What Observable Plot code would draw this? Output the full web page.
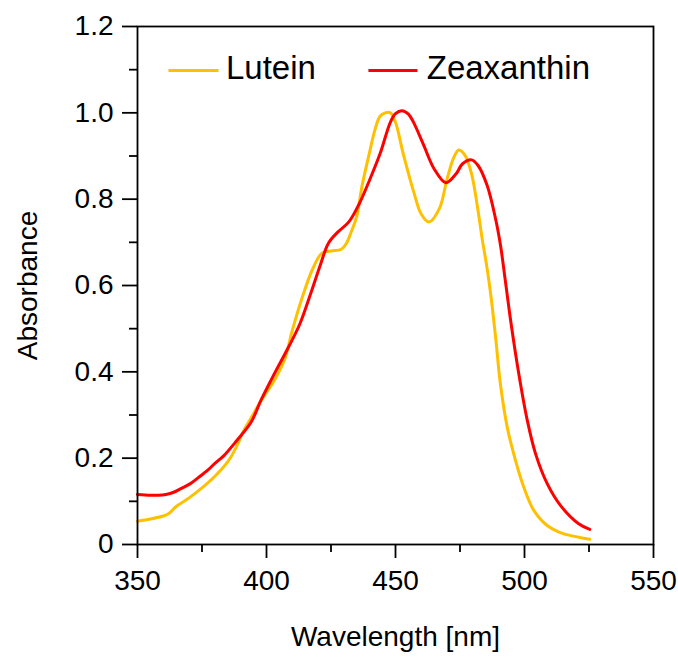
<!DOCTYPE html>
<html>
<head>
<meta charset="utf-8">
<script src="https://cdn.jsdelivr.net/npm/d3@7"></script>
<script src="https://cdn.jsdelivr.net/npm/@observablehq/plot@0.6"></script>
<style>
  html, body { margin: 0; padding: 0; background: #fff; }
  #chart svg { display: block; }
</style>
</head>
<body>
<div id="chart"></div>
<script>
// Lutein absorbance spectrum (wavelength nm, absorbance)
const luteinWavelength = [350, 355, 360, 362, 365, 370, 375, 380, 385, 388, 391, 394, 398, 403, 407, 410, 414, 418, 421.5, 425, 429, 431, 433, 435, 437, 440, 442, 444, 446, 448, 450, 453, 457, 460, 463, 467, 470, 472.5, 474.5, 477, 479.5, 481.7, 483.6, 485.5, 487, 488.8, 490.7, 493.3, 496.5, 499.7, 503.6, 508.8, 515, 521, 525.3];
const luteinAbsorbance = [0.054, 0.059, 0.066, 0.071, 0.088, 0.108, 0.131, 0.158, 0.192, 0.222, 0.262, 0.293, 0.334, 0.380, 0.428, 0.496, 0.575, 0.640, 0.675, 0.680, 0.684, 0.698, 0.727, 0.760, 0.830, 0.910, 0.960, 0.992, 1.000, 1.000, 0.978, 0.905, 0.818, 0.765, 0.747, 0.778, 0.847, 0.895, 0.914, 0.901, 0.858, 0.785, 0.708, 0.640, 0.575, 0.480, 0.370, 0.272, 0.195, 0.133, 0.079, 0.044, 0.025, 0.017, 0.012];

// Zeaxanthin absorbance spectrum
const zeaWavelength = [350, 355, 358, 361, 364, 367, 370.5, 374, 377, 380, 383.5, 388.5, 394, 398, 403, 408.5, 413, 417.5, 421, 424, 427.5, 432, 436, 440, 444, 448, 450, 452.5, 455, 457, 461, 465, 469.5, 473.5, 476, 479.5, 482, 485.5, 488.8, 490.7, 492.6, 494.6, 497.8, 501, 504.3, 508.8, 514, 521, 525.3];
const zeaAbsorbance = [0.116, 0.114, 0.114, 0.116, 0.121, 0.130, 0.141, 0.157, 0.171, 0.188, 0.206, 0.241, 0.283, 0.336, 0.395, 0.457, 0.512, 0.588, 0.650, 0.698, 0.723, 0.748, 0.790, 0.845, 0.905, 0.978, 0.998, 1.005, 0.997, 0.978, 0.924, 0.870, 0.838, 0.859, 0.882, 0.891, 0.878, 0.832, 0.754, 0.693, 0.610, 0.520, 0.395, 0.290, 0.210, 0.141, 0.090, 0.048, 0.035];

const seriesNames = ["Lutein", "Zeaxanthin"];
const seriesColors = ["#FFC000", "#FF0000"];

const xTicks = [350, 400, 450, 500, 550];
const xTickLabels = ["350", "400", "450", "500", "550"];
const xMinorTicks = [375, 425, 475, 525];
const yTicks = [0, 0.2, 0.4, 0.6, 0.8, 1.0, 1.2];
const yTickLabels = ["0", "0.2", "0.4", "0.6", "0.8", "1.0", "1.2"];
const yMinorTicks = [0.1, 0.3, 0.5, 0.7, 0.9, 1.1];

const xTitle = "Wavelength [nm]";
const yTitle = "Absorbance";

const data = [
  ...luteinWavelength.map((w, i) => ({series: seriesNames[0], w, a: luteinAbsorbance[i]})),
  ...zeaWavelength.map((w, i) => ({series: seriesNames[1], w, a: zeaAbsorbance[i]}))
];

// legend layout (in data units, inside the frame)
const legendItems = [
  {name: seriesNames[0], color: seriesColors[0], x1: 362, x2: 381.4, xt: 384.3},
  {name: seriesNames[1], color: seriesColors[1], x1: 439.5, x2: 458.5, xt: 462.1}
];
const legendY = 1.098;

const fontFamily = "'Liberation Sans', Arial, Helvetica, sans-serif";

const chart = Plot.plot({
  width: 678,
  height: 659,
  marginLeft: 137,
  marginRight: 25,
  marginTop: 26,
  marginBottom: 115,
  style: {fontFamily, color: "#000", background: "#fff", overflow: "visible"},
  x: {domain: [350, 550]},
  y: {domain: [0, 1.2]},
  color: {domain: seriesNames, range: seriesColors},
  marks: [
    Plot.line(data, {
      x: "w", y: "a", z: "series", stroke: "series",
      strokeWidth: 3, curve: "catmull-rom"
    }),
    Plot.link(legendItems, {
      x1: "x1", x2: "x2", y1: () => legendY, y2: () => legendY,
      stroke: "color", strokeWidth: 3
    }),
    Plot.text(legendItems, {
      x: "xt", y: () => legendY + 0.006, text: "name",
      textAnchor: "start", lineAnchor: "middle", fontSize: 33, fill: "#000"
    }),
    Plot.frame({stroke: "#000", strokeWidth: 1.8}),
    Plot.axisX({
      ticks: xTicks,
      tickFormat: (d) => xTickLabels[xTicks.indexOf(d)],
      tickSize: 14, tickPadding: 12, strokeWidth: 1.8, fontSize: 28,
      label: xTitle, labelAnchor: "center", labelOffset: 101, labelArrow: "none"
    }),
    Plot.axisX({
      ticks: xMinorTicks, tickFormat: () => "",
      tickSize: 8, strokeWidth: 1.8, label: null
    }),
    Plot.axisY({
      ticks: yTicks,
      tickFormat: (d) => yTickLabels[yTicks.indexOf(d)],
      tickSize: 15, tickPadding: 9, strokeWidth: 1.8, fontSize: 28,
      label: yTitle, labelAnchor: "center", labelOffset: 120, labelArrow: "none"
    }),
    Plot.axisY({
      ticks: yMinorTicks, tickFormat: () => "",
      tickSize: 8, strokeWidth: 1.8, label: null
    })
  ]
});

document.getElementById("chart").appendChild(chart);
</script>
</body>
</html>
